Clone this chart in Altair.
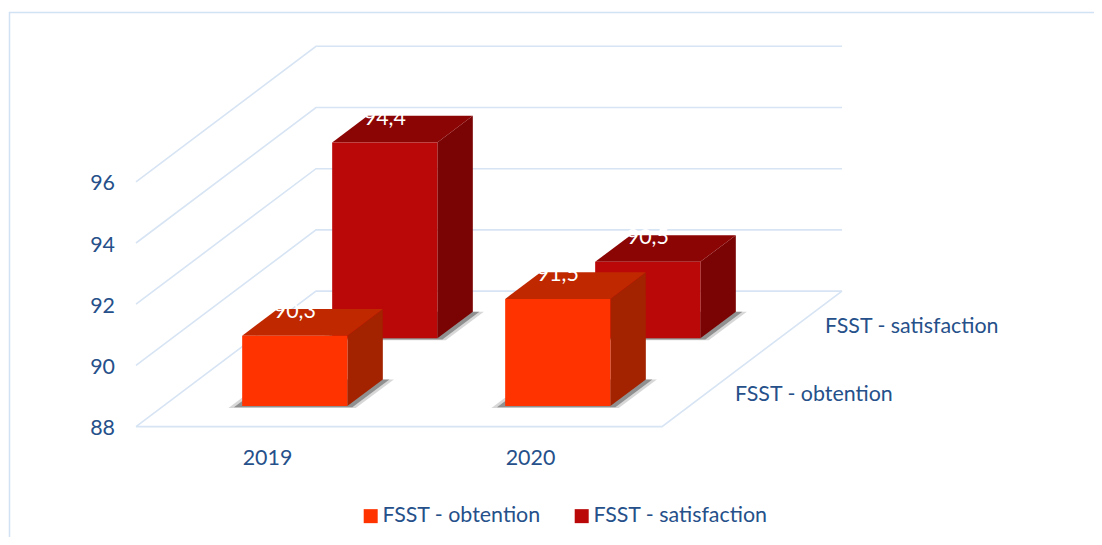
import altair as alt
import pandas as pd

# ---- values
years = ["2019", "2020"]
series = ["FSST - obtention", "FSST - satisfaction"]
obtention = [90.3, 91.5]
satisfaction = [94.4, 90.5]
labels_obtention = ["90,3", "91,5"]
labels_satisfaction = ["94,4", "90,5"]
value_ticks = [88, 90, 92, 94, 96]

# ---- projection of the 3D box (category, series depth, value) to page pixels
ORIGIN_X, ORIGIN_Y = 136.0, 426.6
CAT_W = 263.0
DEPTH_X, DEPTH_Y = 90.0, 67.75   # per series
UNIT_Y = 30.6
V0 = 88
BAR_W = 0.40
BAR_D = 0.394

# plot area: page pixels 8..1094 across, 8..537 down
W, H = 1086, 529
FONT = "Lato"
FS = 21.4


def proj(c, d, v):
    return (ORIGIN_X + c * CAT_W + d * DEPTH_X,
            ORIGIN_Y - d * DEPTH_Y - (v - V0) * UNIT_Y)


xs = alt.Scale(domain=[8, 8 + W], range=[0, W], nice=False, zero=False)
ys = alt.Scale(domain=[8 + H, 8], range=[H, 0], nice=False, zero=False)
X = alt.X("x:Q", scale=xs, axis=None)
Y = alt.Y("y:Q", scale=ys, axis=None, stack=None)
Y2 = alt.Y2("y2:Q")


def top_para(c0, c1, d0, d1, v):
    a = proj(c0, d0, v); b = proj(c0, d1, v); cc = proj(c1, d0, v); e = proj(c1, d1, v)
    return pd.DataFrame([
        dict(x=a[0], y=a[1], y2=a[1]),
        dict(x=b[0], y=a[1], y2=b[1]),
        dict(x=cc[0], y=a[1], y2=b[1]),
        dict(x=e[0], y=e[1], y2=e[1]),
    ])


def area(df, color, opacity=1.0):
    return alt.Chart(df).mark_area(color=color, opacity=opacity, orient="vertical",
                                   interpolate="linear").encode(x=X, y=Y, y2=Y2)


layers = []

# ---- chart frame (left and top edges; the others fall outside the picture)
frame = pd.DataFrame([dict(i=0, x=9.5, y=8 + H), dict(i=1, x=9.5, y=12.5), dict(i=2, x=8 + W, y=12.5)])
layers.append(alt.Chart(frame).mark_line(color="#D2E2F5", strokeWidth=1.5).encode(x=X, y=Y, order="i:Q"))

# ---- grid
rows = []
for v in value_ticks:
    for i, p in enumerate([proj(0, 0, v), proj(0, 2, v), proj(2, 2, v)]):
        rows.append(dict(g=f"v{v}", i=i, x=p[0], y=p[1]))
for i, p in enumerate([proj(0, 0, V0), proj(2, 0, V0), proj(2, 2, V0)]):
    rows.append(dict(g="floor", i=i, x=p[0], y=p[1]))
GRID = "#D7E4F4"
layers.append(alt.Chart(pd.DataFrame(rows)).mark_line(color=GRID, strokeWidth=1.6).encode(
    x=X, y=Y, detail="g:N", order="i:Q"))

# ---- bars: back series first
styles = {
    series[0]: dict(front="#FF3300", top="#C02800", side="#A32200"),
    series[1]: dict(front="#BA0808", top="#8C0505", side="#7A0303"),
}
color_scale = alt.Scale(domain=series, range=[styles[series[0]]["front"], styles[series[1]]["front"]])
legend = alt.Legend(title=None, orient="none", legendX=352, legendY=497, direction="horizontal",
                    symbolType="square", symbolSize=196, symbolStrokeWidth=0, symbolOpacity=1,
                    labelFont=FONT, labelFontSize=FS, labelColor="#25508A", labelLimit=300,
                    columnPadding=30, labelOffset=1)

for s_i, name, vals in [(1, series[1], satisfaction), (0, series[0], obtention)]:
    st = styles[name]
    d0 = s_i + (1 - BAR_D) / 2
    d1 = d0 + BAR_D
    for c_i, v in enumerate(vals):
        c0 = c_i + (1 - BAR_W) / 2
        c1 = c0 + BAR_W
        # soft floor shadow
        layers.append(area(top_para(c0 - 0.042, c1 + 0.042, d0 - 0.03, d1 + 0.0, V0), "#9A9A9A", 0.4))
        layers.append(area(top_para(c0 - 0.025, c1 + 0.025, d0 - 0.018, d1 + 0.0, V0), "#555555", 0.55))
        # side face
        p_fb, p_ft = proj(c1, d0, V0), proj(c1, d0, v)
        p_bb, p_bt = proj(c1, d1, V0), proj(c1, d1, v)
        side = pd.DataFrame([dict(x=p_fb[0], y=p_fb[1], y2=p_ft[1]),
                             dict(x=p_bb[0], y=p_bb[1], y2=p_bt[1])])
        layers.append(area(side, st["side"]))
        # top face
        layers.append(area(top_para(c0, c1, d0, d1, v), st["top"]))
        # front face
        a, b = proj(c0, d0, V0), proj(c1, d0, v)
        front = pd.DataFrame([dict(x=a[0], x2=b[0], y=a[1], y2=b[1], serie=name)])
        layers.append(alt.Chart(front).mark_rect(opacity=1).encode(
            x=X, x2="x2:Q", y=Y, y2=Y2,
            color=alt.Color("serie:N", scale=color_scale, legend=legend)))

# ---- data labels (white, centred above the front face)
lab = []
for s_i, vals, txts in [(1, satisfaction, labels_satisfaction), (0, obtention, labels_obtention)]:
    d0 = s_i + (1 - BAR_D) / 2
    for c_i, (v, t) in enumerate(zip(vals, txts)):
        p = proj(c_i + 0.5, d0, v)
        lab.append(dict(x=p[0], y=p[1], t=t))
layers.append(alt.Chart(pd.DataFrame(lab)).mark_text(
    font=FONT, fontSize=FS, color="white", dy=-23.5, baseline="middle", align="center"
).encode(x=X, y=Y, text="t:N"))

TEXT = "#25508A"
# ---- value labels
vt = [dict(x=proj(0, 0, v)[0] - 21, y=proj(0, 0, v)[1] + 2.5, t=str(v)) for v in value_ticks]
layers.append(alt.Chart(pd.DataFrame(vt)).mark_text(
    font=FONT, fontSize=FS, color=TEXT, align="right", baseline="middle"
).encode(x=X, y=Y, text="t:N"))
# ---- category labels
ct = [dict(x=proj(i + 0.5, 0, V0)[0], y=proj(i + 0.5, 0, V0)[1] + 32.5, t=t) for i, t in enumerate(years)]
layers.append(alt.Chart(pd.DataFrame(ct)).mark_text(
    font=FONT, fontSize=FS, color=TEXT, align="center", baseline="middle"
).encode(x=X, y=Y, text="t:N"))
# ---- depth labels
st_rows = []
for i, t in enumerate(series):
    p = proj(2, i + 0.5, V0)
    st_rows.append(dict(x=p[0] + 28, y=p[1] + 2.5, t=t))
layers.append(alt.Chart(pd.DataFrame(st_rows)).mark_text(
    font=FONT, fontSize=FS, color=TEXT, align="left", baseline="middle"
).encode(x=X, y=Y, text="t:N"))

chart = alt.layer(*layers).resolve_scale(color="shared").properties(
    width=W, height=H,
    padding=0,
    autosize=alt.AutoSizeParams(type="none"),
    background="white",
).configure_view(stroke=None)

chart.save("out.html", embed_options={"renderer": "svg", "actions": False})
